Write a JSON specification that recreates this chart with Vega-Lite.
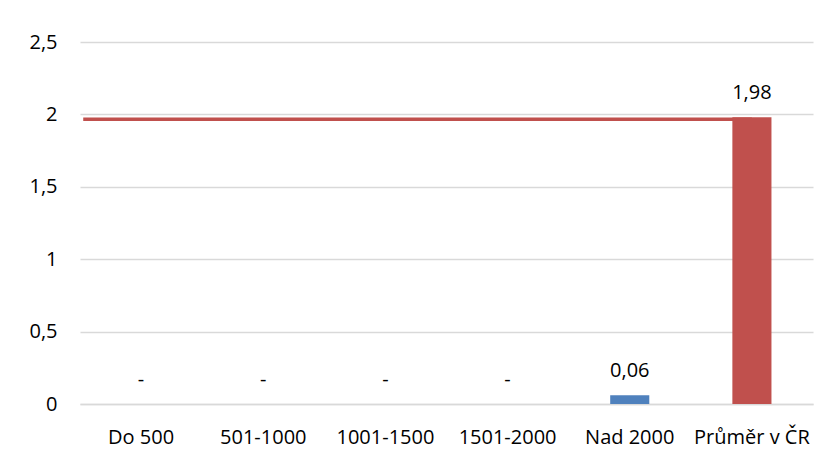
{
  "$schema": "https://vega.github.io/schema/vega-lite/v6.json",
  "width": 733,
  "height": 362,
  "autosize": {"type": "none"},
  "padding": {"left": 80, "top": 42, "right": 16, "bottom": 54},
  "background": "white",
  "config": {
    "view": {"stroke": null},
    "font": "Open Sans",
    "text": {"font": "Open Sans"}
  },
  "data": {
    "values": [
      {"category": "Do 500", "value": 0, "series": "obec"},
      {"category": "501-1000", "value": 0, "series": "obec"},
      {"category": "1001-1500", "value": 0, "series": "obec"},
      {"category": "1501-2000", "value": 0, "series": "obec"},
      {"category": "Nad 2000", "value": 0.06, "series": "obec"},
      {"category": "Průměr v ČR", "value": 1.98, "series": "prumer"}
    ]
  },
  "encoding": {
    "x": {
      "field": "category",
      "type": "nominal",
      "sort": null,
      "scale": {
        "domain": ["Do 500", "501-1000", "1001-1500", "1501-2000", "Nad 2000", "Průměr v ČR"],
        "paddingInner": 0.68,
        "paddingOuter": 0.34
      },
      "axis": {
        "title": null,
        "labelAngle": 0,
        "labelFont": "Open Sans",
        "labelFontSize": 20,
        "labelColor": "#000000",
        "ticks": false,
        "tickSize": 0,
        "labelPadding": 39,
        "labelBaseline": "alphabetic",
        "domainColor": "#d9d9d9",
        "domainWidth": 1.5,
        "grid": false
      }
    }
  },
  "layer": [
    {
      "transform": [{"filter": "datum.series == 'prumer'"}],
      "mark": {"type": "rule", "color": "#c0504d", "strokeWidth": 3.5, "yOffset": 2},
      "encoding": {
        "x": {"datum": "Do 500", "bandPosition": -0.98},
        "x2": {"datum": "Průměr v ČR"},
        "y": {"field": "value", "type": "quantitative"}
      }
    },
    {
      "mark": {"type": "bar"},
      "encoding": {
        "y": {
          "field": "value",
          "type": "quantitative",
          "scale": {"domain": [0, 2.5], "nice": false},
          "axis": {
            "title": null,
            "values": [0, 0.5, 1, 1.5, 2, 2.5],
            "labelExpr": "replace(format(datum.value, '~g'), '.', ',')",
            "labelFont": "Open Sans",
            "labelFontSize": 20,
            "labelColor": "#000000",
            "ticks": false,
            "tickSize": 0,
            "labelPadding": 23,
            "domain": false,
            "gridColor": "#d9d9d9",
            "gridWidth": 1.5
          }
        },
        "color": {
          "field": "series",
          "type": "nominal",
          "scale": {"domain": ["obec", "prumer"], "range": ["#4f81bd", "#c0504d"]},
          "legend": null
        }
      }
    },
    {
      "transform": [
        {"calculate": "datum.value == 0 ? '-' : replace(format(datum.value, '.2f'), '.', ',')", "as": "label"}
      ],
      "mark": {"type": "text", "baseline": "alphabetic", "dy": -18, "fontSize": 20, "font": "Open Sans", "color": "#000000"},
      "encoding": {
        "y": {"field": "value", "type": "quantitative"},
        "text": {"field": "label"}
      }
    }
  ]
}
